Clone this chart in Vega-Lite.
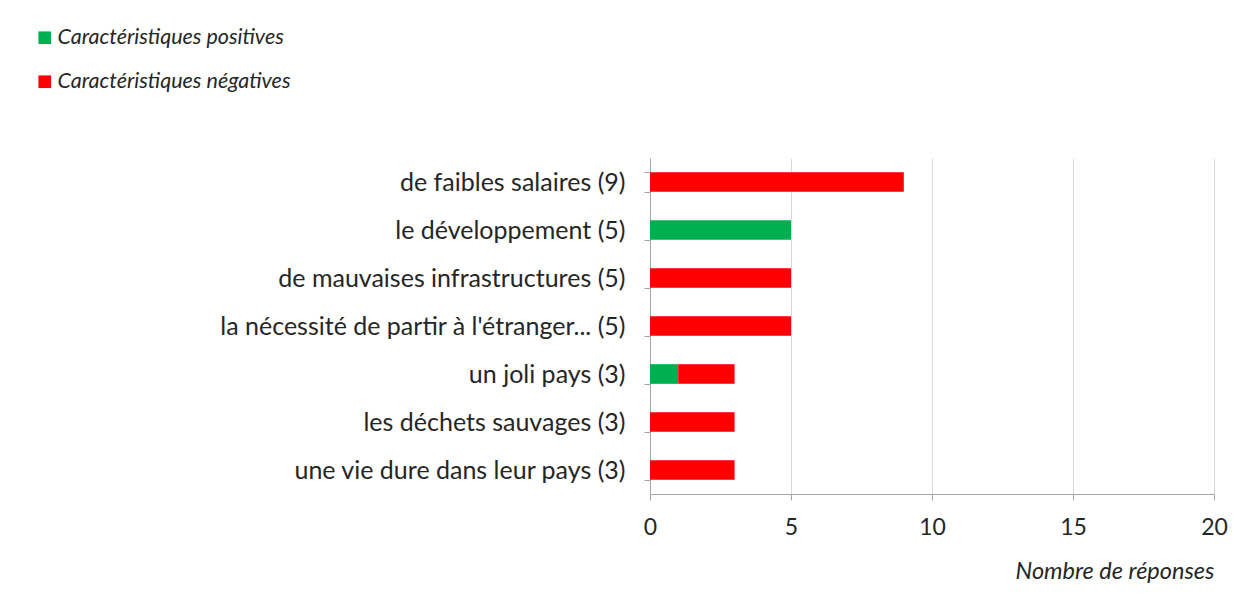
{
  "$schema": "https://vega.github.io/schema/vega-lite/v6.json",
  "autosize": "none",
  "width": 564,
  "height": 336,
  "padding": {"left": 650, "top": 158, "right": 36, "bottom": 106},
  "background": "white",
  "data": {
    "values": [
      {"item": "de faibles salaires (9)", "type": "Caractéristiques positives", "n": 0},
      {"item": "de faibles salaires (9)", "type": "Caractéristiques négatives", "n": 9},
      {"item": "le développement (5)", "type": "Caractéristiques positives", "n": 5},
      {"item": "le développement (5)", "type": "Caractéristiques négatives", "n": 0},
      {"item": "de mauvaises infrastructures (5)", "type": "Caractéristiques positives", "n": 0},
      {"item": "de mauvaises infrastructures (5)", "type": "Caractéristiques négatives", "n": 5},
      {"item": "la nécessité de partir à l'étranger... (5)", "type": "Caractéristiques positives", "n": 0},
      {"item": "la nécessité de partir à l'étranger... (5)", "type": "Caractéristiques négatives", "n": 5},
      {"item": "un joli pays (3)", "type": "Caractéristiques positives", "n": 1},
      {"item": "un joli pays (3)", "type": "Caractéristiques négatives", "n": 2},
      {"item": "les déchets sauvages (3)", "type": "Caractéristiques positives", "n": 0},
      {"item": "les déchets sauvages (3)", "type": "Caractéristiques négatives", "n": 3},
      {"item": "une vie dure dans leur pays (3)", "type": "Caractéristiques positives", "n": 0},
      {"item": "une vie dure dans leur pays (3)", "type": "Caractéristiques négatives", "n": 3}
    ]
  },
  "mark": {"type": "bar", "stroke": null},
  "encoding": {
    "y": {
      "field": "item",
      "type": "nominal",
      "sort": null,
      "scale": {"paddingInner": 0.59, "paddingOuter": 0.295},
      "axis": {
        "title": null,
        "tickBand": "extent",
        "tickSize": 6,
        "tickColor": "#a6a6a6",
        "domainColor": "#a6a6a6",
        "labelFont": "Lato",
        "labelFontSize": 25,
        "labelColor": "#262626",
        "labelPadding": 19,
        "labelLimit": 700,
        "grid": false
      }
    },
    "x": {
      "field": "n",
      "type": "quantitative",
      "stack": "zero",
      "scale": {"domain": [0, 20], "nice": false},
      "axis": {
        "values": [0, 5, 10, 15, 20],
        "title": "Nombre de réponses",
        "titleFont": "Lato",
        "titleFontStyle": "italic",
        "titleFontWeight": "normal",
        "titleFontSize": 23.5,
        "titleColor": "#262626",
        "titleAnchor": "end",
        "titlePadding": 20,
        "labelFont": "Lato",
        "labelFontSize": 23,
        "labelColor": "#262626",
        "labelPadding": 16,
        "tickSize": 6,
        "tickColor": "#a6a6a6",
        "domainColor": "#a6a6a6",
        "grid": true,
        "gridColor": "#d9d9d9",
        "labelFlush": false
      }
    },
    "color": {
      "field": "type",
      "type": "nominal",
      "scale": {
        "domain": ["Caractéristiques positives", "Caractéristiques négatives"],
        "range": ["#00B050", "#FF0000"]
      },
      "legend": {
        "title": null,
        "orient": "none",
        "legendX": -616,
        "legendY": -131,
        "padding": 0,
        "direction": "vertical",
        "symbolType": "square",
        "symbolSize": 160,
        "symbolStrokeWidth": 0,
        "labelFont": "Lato",
        "labelFontStyle": "italic",
        "labelFontSize": 21.5,
        "labelColor": "#262626",
        "labelOffset": 2,
        "rowPadding": 21,
        "labelLimit": 400
      }
    },
    "order": {"field": "type", "sort": "descending"}
  },
  "config": {"view": {"stroke": null}}
}
